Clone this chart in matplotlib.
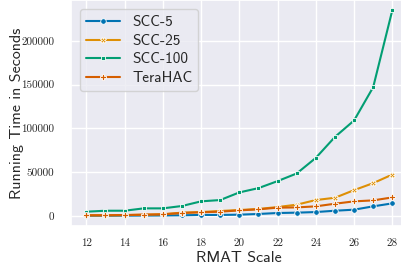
import matplotlib
matplotlib.use('Agg')
import matplotlib.pyplot as plt
import seaborn as sns

scales = list(range(12, 29))
scc5 = [300, 300, 400, 500, 600, 800, 1200, 1200, 1500, 2300, 3400, 3800, 4500, 6000, 7200, 11000, 14400]
scc25 = [800, 800, 1000, 1500, 2000, 3800, 4500, 5700, 6800, 8000, 10200, 12900, 18200, 20800, 29500, 37500, 47300]
scc100 = [4900, 6000, 6000, 8700, 8700, 11400, 16700, 18200, 26900, 31800, 39800, 48500, 66300, 90200, 109000, 147000, 234800]
terahac = [800, 800, 1100, 1500, 1900, 3400, 4200, 4900, 6400, 7600, 9500, 9800, 11000, 14000, 16700, 17800, 21200]
xticks = list(range(12, 29, 2))
yticks = [0, 50000, 100000, 150000, 200000]

sns.set_theme(style='darkgrid')
plt.rcParams['font.family'] = ['cmss10', 'DejaVu Sans']
plt.rcParams['axes.formatter.use_mathtext'] = True
pal = sns.color_palette('colorblind')

fig = plt.figure(figsize=(4.02, 2.71), dpi=100)
ax = fig.add_axes([71 / 402, 45 / 271, 336.6 / 402, 226 / 271])

series = [
    ('SCC-5', scc5, pal[0], 'o', 4),
    ('SCC-25', scc25, pal[1], 'X', 4),
    ('SCC-100', scc100, pal[2], 's', 3.5),
    ('TeraHAC', terahac, pal[3], 'P', 4.5),
]
for name, vals, col, mk, ms in series:
    ax.plot(scales, vals, color=col, marker=mk, markersize=ms, lw=1.5,
            markeredgecolor='white', markeredgewidth=0.6, label=name)

ax.set_xlim(11.2, 28.8)
ax.set_xticks(xticks)
ax.set_xticklabels([str(t) for t in xticks], fontsize=8, family=['cmr10', 'DejaVu Serif'])
ax.set_yticks(yticks)
ax.set_yticklabels([str(t) for t in yticks], fontsize=8, family=['cmr10', 'DejaVu Serif'])
ax.tick_params(axis='x', pad=3)
ax.tick_params(axis='y', pad=6)
ax.set_xlabel('RMAT Scale', fontsize=11.5)
ax.set_ylabel('Running Time in Seconds', fontsize=11.5)
ax.xaxis.set_label_coords(0.5, (226 - 251) / 226)
ax.yaxis.set_label_coords((24 - 71) / 336.6, 0.5)

leg = ax.legend(loc='upper left', fontsize=11, frameon=True, labelspacing=0.3,
                handlelength=2.2, borderaxespad=0.6)

fig.savefig('out.png', dpi=100)
